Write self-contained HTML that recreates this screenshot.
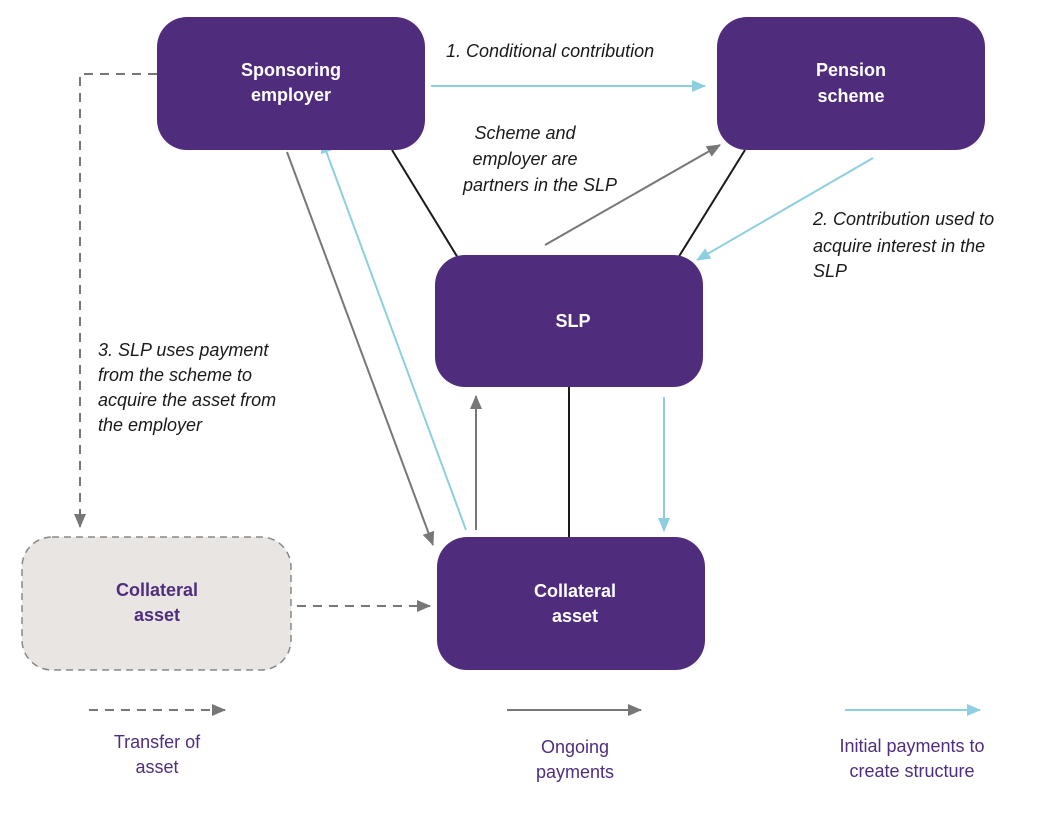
<!DOCTYPE html>
<html><head><meta charset="utf-8"><style>
html,body{margin:0;padding:0;background:#fff;}
svg{display:block;}
text{font-family:"Liberation Sans",sans-serif;}
.b{font-weight:bold;fill:#fff;font-size:18px;text-anchor:middle;}
.i{font-style:italic;fill:#1a1a1a;font-size:18px;}
.l{fill:#4f2d7f;font-size:18px;text-anchor:middle;}
</style></head><body>
<svg width="1052" height="829" viewBox="0 0 1052 829">
<defs>
<marker id="ag" markerWidth="10" markerHeight="10" refX="9" refY="5" orient="auto" markerUnits="userSpaceOnUse"><path d="M0,0 L10,5 L0,10 z" fill="#777"/></marker>
<marker id="ab" markerWidth="14" markerHeight="12" refX="13" refY="6" orient="auto" markerUnits="userSpaceOnUse"><path d="M0,0 L14,6 L0,12 z" fill="#8dcfe0"/></marker>
<marker id="ag2" markerWidth="14" markerHeight="12" refX="13" refY="6" orient="auto" markerUnits="userSpaceOnUse"><path d="M0,0 L14,6 L0,12 z" fill="#777"/></marker>
</defs>
<!-- connectors -->
<g stroke-width="2" fill="none">
<line x1="431" y1="86" x2="705" y2="86" stroke="#8dcfe0" marker-end="url(#ab)"/>
<line x1="392" y1="150" x2="458" y2="258" stroke="#1a1a1a"/>
<line x1="745" y1="150" x2="678" y2="258" stroke="#1a1a1a"/>
<line x1="545" y1="245" x2="720" y2="145" stroke="#777" marker-end="url(#ag2)"/>
<line x1="873" y1="158" x2="697" y2="260" stroke="#8dcfe0" marker-end="url(#ab)"/>
<polyline points="157,74 80,74 80,527" stroke="#777" stroke-dasharray="9,7" marker-end="url(#ag2)"/>
<line x1="287" y1="152" x2="433" y2="545" stroke="#777" marker-end="url(#ag2)"/>
<line x1="466" y1="530" x2="322" y2="140" stroke="#8dcfe0" marker-end="url(#ab)"/>
<line x1="476" y1="530" x2="476" y2="396" stroke="#777" marker-end="url(#ag2)"/>
<line x1="569" y1="387" x2="569" y2="537" stroke="#1a1a1a"/>
<line x1="664" y1="397" x2="664" y2="531" stroke="#8dcfe0" marker-end="url(#ab)"/>
<line x1="297" y1="606" x2="430" y2="606" stroke="#777" stroke-dasharray="9,7" marker-end="url(#ag2)"/>
<line x1="89" y1="710" x2="225" y2="710" stroke="#777" stroke-dasharray="9,7" marker-end="url(#ag2)"/>
<line x1="507" y1="710" x2="641" y2="710" stroke="#777" marker-end="url(#ag2)"/>
<line x1="845" y1="710" x2="980" y2="710" stroke="#8dcfe0" marker-end="url(#ab)"/>
</g>
<!-- boxes -->
<rect x="157" y="17" width="268" height="133" rx="30" fill="#502d7c"/>
<rect x="717" y="17" width="268" height="133" rx="30" fill="#502d7c"/>
<rect x="435" y="255" width="268" height="132" rx="30" fill="#502d7c"/>
<rect x="437" y="537" width="268" height="133" rx="30" fill="#502d7c"/>
<rect x="22" y="537" width="269" height="133" rx="30" fill="#e9e5e2" stroke="#888" stroke-width="1.5" stroke-dasharray="7,5"/>
<text class="b" x="291" y="76">Sponsoring</text><text class="b" x="291" y="101">employer</text>
<text class="b" x="851" y="76">Pension</text><text class="b" x="851" y="102">scheme</text>
<text class="b" x="573" y="327">SLP</text>
<text class="b" x="575" y="597">Collateral</text><text class="b" x="575" y="622">asset</text>
<text class="b" x="157" y="596" style="fill:#4f2d7f">Collateral</text><text class="b" x="157" y="621" style="fill:#4f2d7f">asset</text>
<!-- labels -->
<text class="i" x="446" y="57">1. Conditional contribution</text>
<text class="i" x="525" y="139" text-anchor="middle">Scheme and</text>
<text class="i" x="525" y="165" text-anchor="middle">employer are</text>
<text class="i" x="540" y="191" text-anchor="middle">partners in the SLP</text>
<text class="i" x="813" y="225">2. Contribution used to</text>
<text class="i" x="813" y="252">acquire interest in the</text>
<text class="i" x="813" y="277">SLP</text>
<text class="i" x="98" y="356">3. SLP uses payment</text>
<text class="i" x="98" y="381">from the scheme to</text>
<text class="i" x="98" y="406">acquire the asset from</text>
<text class="i" x="98" y="431">the employer</text>
<text class="l" x="157" y="748">Transfer of</text><text class="l" x="157" y="773">asset</text>
<text class="l" x="575" y="753">Ongoing</text><text class="l" x="575" y="778">payments</text>
<text class="l" x="912" y="752">Initial payments to</text><text class="l" x="912" y="777">create structure</text>
</svg>
</body></html>
